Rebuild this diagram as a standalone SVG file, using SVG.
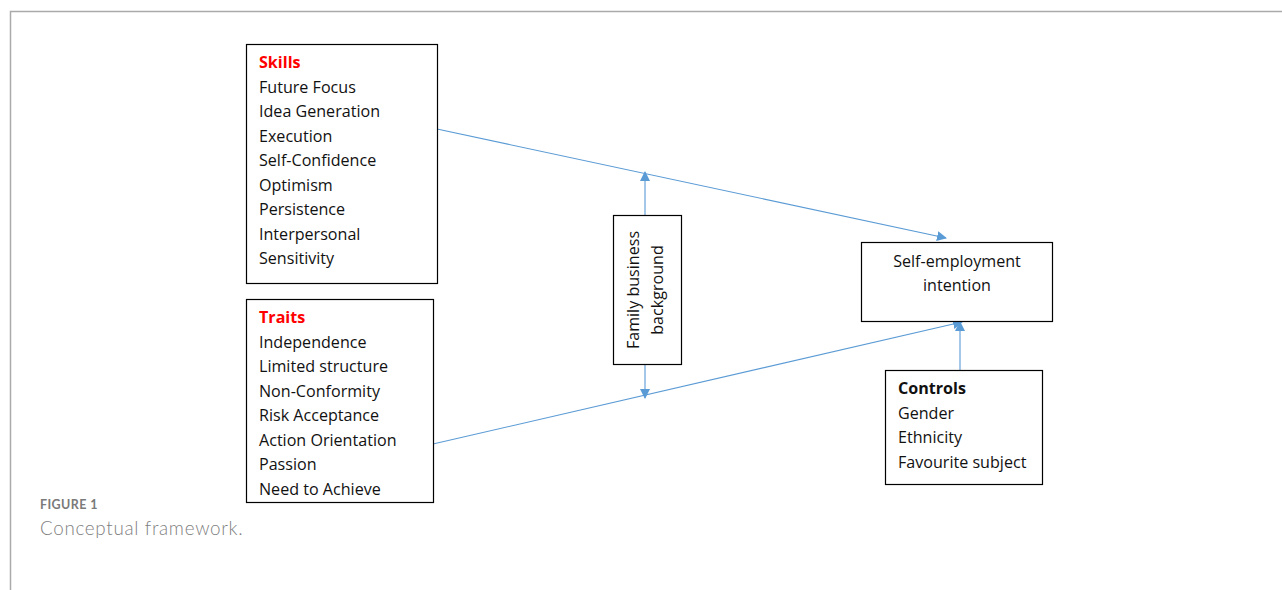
<svg xmlns="http://www.w3.org/2000/svg" width="1282" height="590" viewBox="0 0 1282 590">
<style>
.box{fill:#fff;stroke:#000;stroke-width:1.2}
.t{font-family:"Open Sans","Liberation Sans",Arial,sans-serif;font-size:16.1px;fill:#111}
.h{font-weight:bold;fill:#f00}
.b{font-weight:bold}
.c{stroke:#5B9BD5;stroke-width:1.1;fill:none}
</style>
<defs>
<marker id="ah" viewBox="0 0 10 10" refX="9" refY="5" markerWidth="10" markerHeight="10" markerUnits="userSpaceOnUse" orient="auto">
<path d="M0,0 L10,5 L0,10 z" fill="#5B9BD5"/>
</marker>
</defs>
<rect width="1282" height="590" fill="#fff"/>
<path d="M10.5,590 V11.5 H1282" fill="none" stroke="#aaa" stroke-width="1.5"/>
<g id="connectors">
<line class="c" x1="437" y1="129" x2="946" y2="238" marker-end="url(#ah)"/>
<line class="c" x1="433" y1="444" x2="962" y2="322" marker-end="url(#ah)"/>
<line class="c" x1="960" y1="370" x2="960" y2="322" marker-end="url(#ah)"/>
<line class="c" x1="645" y1="215" x2="645" y2="172" marker-end="url(#ah)"/>
<line class="c" x1="645" y1="364" x2="645" y2="398" marker-end="url(#ah)"/>
</g>
<g id="skills">
<rect class="box" x="246.5" y="44.5" width="191" height="239"/>
<text class="t h" x="259" y="68">Skills</text>
<text class="t" x="259" y="92.5">Future Focus</text>
<text class="t" x="259" y="117">Idea Generation</text>
<text class="t" x="259" y="141.5">Execution</text>
<text class="t" x="259" y="166">Self-Confidence</text>
<text class="t" x="259" y="190.5">Optimism</text>
<text class="t" x="259" y="215">Persistence</text>
<text class="t" x="259" y="239.5">Interpersonal</text>
<text class="t" x="259" y="264">Sensitivity</text>
</g>
<g id="traits">
<rect class="box" x="246.5" y="299.5" width="187" height="203"/>
<text class="t h" x="259" y="323">Traits</text>
<text class="t" x="259" y="347.5">Independence</text>
<text class="t" x="259" y="372">Limited structure</text>
<text class="t" x="259" y="396.5">Non-Conformity</text>
<text class="t" x="259" y="421">Risk Acceptance</text>
<text class="t" x="259" y="445.5">Action Orientation</text>
<text class="t" x="259" y="470">Passion</text>
<text class="t" x="259" y="494.5">Need to Achieve</text>
</g>
<g id="family">
<rect class="box" x="613.5" y="215.5" width="68" height="149"/>
<text class="t" transform="translate(639,290) rotate(-90)" text-anchor="middle">Family business</text>
<text class="t" transform="translate(663,290) rotate(-90)" text-anchor="middle">background</text>
</g>
<g id="intention">
<rect class="box" x="861.5" y="242.5" width="191" height="79"/>
<text class="t" x="957" y="267" text-anchor="middle">Self-employment</text>
<text class="t" x="957" y="291" text-anchor="middle">intention</text>
</g>
<g id="controls">
<rect class="box" x="885.5" y="370.5" width="157" height="114"/>
<text class="t b" x="898" y="394">Controls</text>
<text class="t" x="898" y="418.5">Gender</text>
<text class="t" x="898" y="443">Ethnicity</text>
<text class="t" x="898" y="467.5">Favourite subject</text>
</g>
<g id="caption">
<text x="40" y="509" font-family="Lato,'Open Sans',sans-serif" font-size="12.5" font-weight="bold" fill="#7a7a7a" letter-spacing="0.4">FIGURE 1</text>
<text x="40" y="535" font-family="Lato,'Open Sans',sans-serif" font-size="18.8" font-weight="300" fill="#808080" letter-spacing="0.7">Conceptual framework.</text>
</g>
</svg>
